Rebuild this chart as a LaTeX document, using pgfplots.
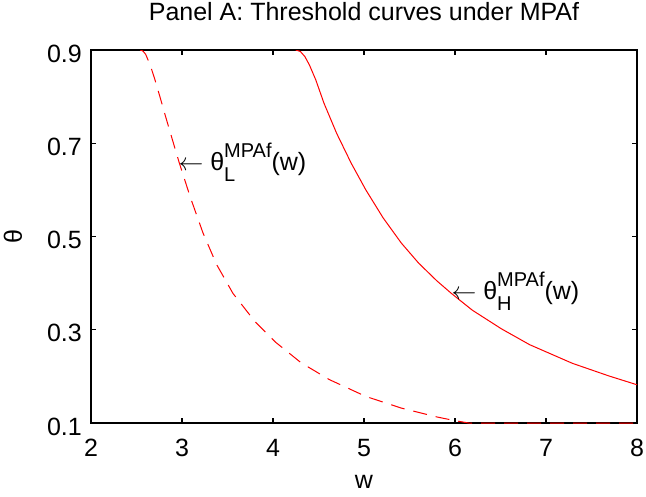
\documentclass[border=0pt]{standalone}
\usepackage{pgfplots}
\pgfplotsset{compat=1.18}
\usepackage{fontspec}
\setmainfont{Liberation Sans}
\newcommand{\mainsize}{\fontsize{25bp}{30bp}\selectfont}
\newcommand{\scriptsz}{\fontsize{20bp}{22bp}\selectfont}
\newcommand{\lab}[1]{$\leftarrow$ θ\rlap{\raisebox{-11bp}{\scriptsz #1}}\raisebox{13bp}{\scriptsz MPAf}(w)}
\begin{document}
\begin{tikzpicture}
\path[use as bounding box] (-91bp,-74bp) rectangle (555bp,423bp);
\begin{axis}[
  at={(0,0)}, anchor=origin,
  scale only axis,
  width=546bp, height=373bp,
  xmin=2, xmax=8, ymin=0.1, ymax=0.9,
  xtick={2,3,4,5,6,7,8},
  xticklabels={2,3,4,5,6,7,8},
  ytick={0.1,0.3,0.5,0.7,0.9},
  yticklabels={0.1,0.3,0.5,0.7,0.9},
  tick align=inside,
  major tick length=5bp,
  axis line style={line width=1.4bp, black},
  every tick/.style={line width=1.2bp, black},
  font=\mainsize,
  xticklabel style={anchor=base, inner sep=0pt, yshift=-33bp},
  yticklabel style={anchor=base east, inner sep=0pt, xshift=-9bp, yshift=-12bp},
  title={Panel A: Threshold curves under MPAf},
  title style={at={(axis description cs:0.5,1.0643)}, anchor=base, inner sep=0pt},
  xlabel={w},
  xlabel style={at={(axis description cs:0.5,-0.1743)}, anchor=base, inner sep=0pt},
  ylabel={θ},
  ylabel style={at={(axis description cs:-0.143,0.5)}, anchor=center, inner sep=0pt},
]
\addplot[red, line width=1bp, dash pattern=on 14bp off 9bp] coordinates {
(2.54,0.9) (2.57,0.898) (2.60,0.891) (2.65,0.868) (2.70,0.838) (2.76,0.798) (2.82,0.757)
(2.90,0.704) (2.97,0.658) (3.09,0.585) (3.23,0.508) (3.38,0.44) (3.56,0.378)
(3.80,0.318) (4.03,0.273) (4.31,0.229) (4.62,0.193) (5.02,0.157) (5.41,0.132)
(5.80,0.113) (6.0,0.105) (6.15,0.1) (8,0.1)
};
\addplot[red, line width=1bp] coordinates {
(4.25,0.9) (4.30,0.897) (4.35,0.886) (4.40,0.868) (4.47,0.836) (4.56,0.786)
(4.70,0.721) (4.86,0.657) (5.02,0.60) (5.21,0.54) (5.41,0.486) (5.60,0.443)
(5.80,0.405) (5.96,0.378) (6.19,0.342) (6.51,0.302) (6.82,0.268) (7.29,0.228)
(7.69,0.201) (8.0,0.182)
};
\node[anchor=base west, inner sep=0pt, yshift=-6.5bp, font=\mainsize] at (axis cs:2.96,0.655) {\lab{L}};
\node[anchor=base west, inner sep=0pt, yshift=-6.5bp, font=\mainsize] at (axis cs:5.96,0.378) {\lab{H}};
\end{axis}
\end{tikzpicture}
\end{document}
